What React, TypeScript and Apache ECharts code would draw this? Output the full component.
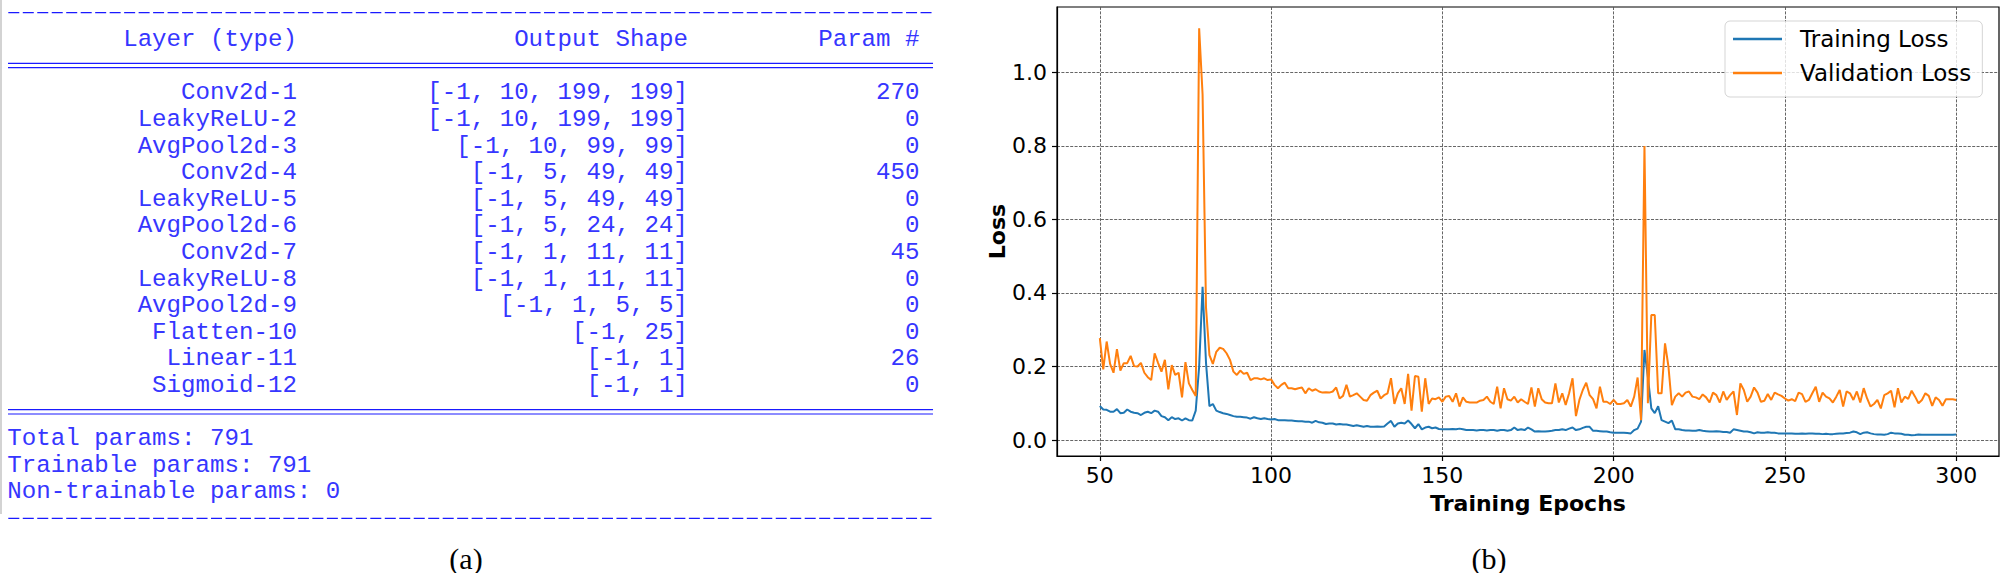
import React, { useEffect, useRef } from "react";
import * as echarts from "echarts";

// ---------- panel (a): model summary table ----------
const TABLE_HEADERS = ["Layer (type)", "Output Shape", "Param #"];
const LAYER_NAMES = [
  "Conv2d-1", "LeakyReLU-2", "AvgPool2d-3", "Conv2d-4", "LeakyReLU-5", "AvgPool2d-6",
  "Conv2d-7", "LeakyReLU-8", "AvgPool2d-9", "Flatten-10", "Linear-11", "Sigmoid-12",
];
const OUTPUT_SHAPES = [
  "[-1, 10, 199, 199]", "[-1, 10, 199, 199]", "[-1, 10, 99, 99]", "[-1, 5, 49, 49]",
  "[-1, 5, 49, 49]", "[-1, 5, 24, 24]", "[-1, 1, 11, 11]", "[-1, 1, 11, 11]",
  "[-1, 1, 5, 5]", "[-1, 25]", "[-1, 1]", "[-1, 1]",
];
const PARAM_COUNTS = ["270", "0", "0", "450", "0", "0", "45", "0", "0", "0", "26", "0"];
const SUMMARY_LINES = ["Total params: 791", "Trainable params: 791", "Non-trainable params: 0"];
const PANEL_LABELS = ["(a)", "(b)"];

// ---------- panel (b): loss curves ----------
const SERIES_NAMES = ["Training Loss", "Validation Loss"];
const FIRST_EPOCH = 50;
const X_TICKS = [50, 100, 150, 200, 250, 300];
const Y_TICKS = [0, 0.2, 0.4, 0.6, 0.8, 1.0];

const TRAINING_LOSS = [
  0.0925, 0.083, 0.082, 0.077, 0.077, 0.084, 0.073, 0.074, 0.083, 0.077,
  0.074, 0.073, 0.068, 0.074, 0.077, 0.073, 0.080, 0.077, 0.065, 0.062,
  0.054, 0.062, 0.057, 0.059, 0.053, 0.059, 0.054, 0.053, 0.080, 0.200,
  0.417, 0.210, 0.092, 0.098, 0.080, 0.076, 0.073, 0.071, 0.068, 0.065,
  0.063, 0.063, 0.062, 0.061, 0.058, 0.062, 0.059, 0.057, 0.059, 0.057,
  0.056, 0.057, 0.054, 0.054, 0.054, 0.053, 0.053, 0.052, 0.051, 0.051,
  0.050, 0.050, 0.047, 0.052, 0.048, 0.047, 0.0435, 0.045, 0.045, 0.042,
  0.0435, 0.042, 0.042, 0.040, 0.038, 0.040, 0.038, 0.036, 0.038, 0.036,
  0.036, 0.037, 0.036, 0.037, 0.045, 0.052, 0.036, 0.045, 0.047, 0.045,
  0.053, 0.0435, 0.032, 0.0435, 0.029, 0.034, 0.036, 0.032, 0.034, 0.030,
  0.029, 0.029, 0.029, 0.030, 0.029, 0.031, 0.029, 0.027, 0.027, 0.027,
  0.026, 0.027, 0.027, 0.026, 0.027, 0.027, 0.025, 0.027, 0.027, 0.025,
  0.027, 0.034, 0.027, 0.029, 0.027, 0.034, 0.029, 0.023, 0.024, 0.023,
  0.023, 0.024, 0.025, 0.027, 0.027, 0.029, 0.027, 0.031, 0.034, 0.027,
  0.029, 0.033, 0.036, 0.036, 0.025, 0.025, 0.024, 0.023, 0.023, 0.021,
  0.020, 0.020, 0.020, 0.020, 0.019, 0.018, 0.027, 0.031, 0.050, 0.245,
  0.172, 0.086, 0.073, 0.092, 0.054, 0.050, 0.046, 0.053, 0.029, 0.029,
  0.027, 0.026, 0.026, 0.025, 0.025, 0.027, 0.025, 0.024, 0.023, 0.023,
  0.024, 0.023, 0.022, 0.022, 0.020, 0.029, 0.027, 0.025, 0.023, 0.023,
  0.021, 0.018, 0.021, 0.020, 0.020, 0.021, 0.020, 0.020, 0.018, 0.018,
  0.018, 0.018, 0.018, 0.017, 0.017, 0.018, 0.017, 0.018, 0.018, 0.017,
  0.017, 0.016, 0.017, 0.016, 0.016, 0.017, 0.018, 0.018, 0.019, 0.020,
  0.023, 0.021, 0.016, 0.020, 0.021, 0.018, 0.016, 0.015, 0.015, 0.0145,
  0.016, 0.020, 0.018, 0.018, 0.017, 0.0145, 0.0145, 0.013, 0.0135, 0.015,
  0.0145, 0.0145, 0.0145, 0.0145, 0.0145, 0.0145, 0.0145, 0.0145, 0.0145, 0.0145,
  0.015,
];

const VALIDATION_LOSS = [
  0.277, 0.192, 0.268, 0.207, 0.183, 0.247, 0.189, 0.209, 0.209, 0.229,
  0.201, 0.200, 0.210, 0.183, 0.171, 0.163, 0.236, 0.210, 0.186, 0.218,
  0.138, 0.204, 0.177, 0.183, 0.116, 0.212, 0.154, 0.136, 0.120, 1.120,
  0.940, 0.360, 0.231, 0.207, 0.240, 0.251, 0.248, 0.236, 0.218, 0.186,
  0.177, 0.189, 0.180, 0.183, 0.163, 0.168, 0.168, 0.165, 0.168, 0.163,
  0.165, 0.150, 0.141, 0.150, 0.156, 0.141, 0.141, 0.138, 0.141, 0.143,
  0.127, 0.141, 0.134, 0.138, 0.132, 0.129, 0.130, 0.129, 0.132, 0.143,
  0.113, 0.120, 0.150, 0.118, 0.122, 0.127, 0.118, 0.109, 0.107, 0.122,
  0.129, 0.134, 0.113, 0.122, 0.127, 0.168, 0.098, 0.127, 0.141, 0.098,
  0.180, 0.080, 0.174, 0.172, 0.077, 0.168, 0.098, 0.113, 0.111, 0.116,
  0.104, 0.118, 0.120, 0.104, 0.127, 0.091, 0.116, 0.104, 0.102, 0.102,
  0.102, 0.107, 0.109, 0.118, 0.104, 0.098, 0.145, 0.086, 0.141, 0.111,
  0.107, 0.118, 0.102, 0.111, 0.104, 0.098, 0.143, 0.091, 0.141, 0.111,
  0.102, 0.100, 0.100, 0.154, 0.102, 0.127, 0.095, 0.127, 0.168, 0.065,
  0.109, 0.136, 0.156, 0.122, 0.111, 0.086, 0.145, 0.104, 0.104, 0.098,
  0.109, 0.098, 0.098, 0.100, 0.109, 0.091, 0.118, 0.170, 0.054, 0.800,
  0.100, 0.340, 0.340, 0.127, 0.127, 0.263, 0.200, 0.095, 0.118, 0.127,
  0.118, 0.129, 0.132, 0.118, 0.116, 0.111, 0.124, 0.116, 0.102, 0.129,
  0.122, 0.102, 0.132, 0.109, 0.122, 0.132, 0.068, 0.154, 0.136, 0.104,
  0.118, 0.143, 0.129, 0.104, 0.107, 0.125, 0.109, 0.129, 0.124, 0.120,
  0.113, 0.107, 0.111, 0.106, 0.129, 0.125, 0.104, 0.109, 0.127, 0.145,
  0.104, 0.129, 0.118, 0.113, 0.102, 0.118, 0.136, 0.091, 0.132, 0.127,
  0.109, 0.132, 0.102, 0.141, 0.113, 0.091, 0.098, 0.109, 0.086, 0.122,
  0.127, 0.134, 0.089, 0.141, 0.102, 0.118, 0.112, 0.134, 0.118, 0.100,
  0.109, 0.127, 0.120, 0.093, 0.116, 0.109, 0.093, 0.111, 0.111, 0.111,
  0.109,
];

// ---------- layout constants ----------
const W = 2001;
const H = 573;
const TBL_COLOR = "#3636ff";
const RULE_COLOR = "#1a1aff";
const MONO = "'Liberation Mono', 'Courier New', monospace";
const SANS = "'DejaVu Sans', sans-serif";
const SERIF = "'Liberation Serif', 'Times New Roman', serif";
const CW = 14.48; // monospace char pitch
const X0 = 7.3;
const MONO_FS = CW / 0.6;
const ROW_Y0 = 92.9;
const ROW_H = 26.6;
const COL_RIGHT = [20, 47, 63].map((c) => X0 + c * CW);
const TABLE_RIGHT = X0 + 64 * CW;

function txt(text: string, x: number, y: number, align: string, extra: any = {}) {
  return {
    type: "text",
    silent: true,
    style: {
      text,
      x,
      y,
      fill: TBL_COLOR,
      fontSize: MONO_FS,
      fontFamily: MONO,
      align,
      verticalAlign: "middle",
      textAlign: align,
      textVerticalAlign: "middle",
      ...extra,
    },
  };
}

function hline(y: number, x1: number, x2: number, style: any) {
  return { type: "line", silent: true, shape: { x1, y1: y, x2, y2: y }, style };
}

function buildGraphics() {
  const g: any[] = [];
  const rowY = (r: number) => ROW_Y0 + ROW_H * r;
  // left grey border
  g.push({ type: "line", silent: true, shape: { x1: 1, y1: 0, x2: 1, y2: 514 }, style: { stroke: "#c4c4c4", lineWidth: 1.5 } });
  // dashed rules
  const dashStyle = { stroke: RULE_COLOR, lineWidth: 1.3, lineDash: [11, CW - 11] };
  g.push(hline(12.7, 8.3, TABLE_RIGHT, dashStyle));
  g.push(hline(518.3, 8.3, TABLE_RIGHT, dashStyle));
  // double (=) rules
  const eqStyle = { stroke: RULE_COLOR, lineWidth: 1.2 };
  g.push(hline(63.3, 8, TABLE_RIGHT - 1, eqStyle));
  g.push(hline(67.7, 8, TABLE_RIGHT - 1, eqStyle));
  g.push(hline(409.6, 8, TABLE_RIGHT - 1, eqStyle));
  g.push(hline(414.0, 8, TABLE_RIGHT - 1, eqStyle));
  // header
  TABLE_HEADERS.forEach((h, i) => g.push(txt(h, COL_RIGHT[i], rowY(-2), "right")));
  // rows
  LAYER_NAMES.forEach((name, r) => {
    g.push(txt(name, COL_RIGHT[0], rowY(r), "right"));
    g.push(txt(OUTPUT_SHAPES[r], COL_RIGHT[1], rowY(r), "right"));
    g.push(txt(PARAM_COUNTS[r], COL_RIGHT[2], rowY(r), "right"));
  });
  // summary
  SUMMARY_LINES.forEach((s, i) => g.push(txt(s, X0, rowY(13 + i), "left")));
  // panel labels
  const lab = { fill: "#000", fontSize: 30, fontFamily: SERIF };
  g.push(txt(PANEL_LABELS[0], 466, 558, "center", lab));
  g.push(txt(PANEL_LABELS[1], 1489, 558, "center", lab));
  return g;
}

export default function App() {
  const ref = useRef<HTMLDivElement>(null);
  useEffect(() => {
    if (!ref.current) return;
    const chart = echarts.init(ref.current, null, { renderer: "svg", width: W, height: H });
    const toPairs = (arr: number[]) => arr.map((v, i) => [FIRST_EPOCH + i, v]);
    const axisText = { fontFamily: SANS, fontSize: 22, color: "#000" };
    const splitStyle = { color: "#555", width: 0.9, type: [3, 1.4] };
    chart.setOption({
      animation: false,
      backgroundColor: "#fff",
      textStyle: { fontFamily: SANS },
      grid: {
        left: 1057,
        right: 2,
        top: 7,
        bottom: 117,
        show: true,
        borderColor: "#000",
        borderWidth: 1.2,
        backgroundColor: "transparent",
        outerBoundsMode: "none",
      },
      legend: {
        orient: "vertical",
        left: 1725,
        top: 21,
        data: SERIES_NAMES,
        icon: "rect",
        itemWidth: 49,
        itemHeight: 2.5,
        itemGap: 0,
        selectedMode: false,
        padding: [1, 11, 7, 8],
        backgroundColor: "rgba(255,255,255,0.8)",
        borderColor: "rgba(0,0,0,0.17)",
        borderWidth: 1,
        borderRadius: 5,
        textStyle: { fontFamily: SANS, fontSize: 23, color: "#000", lineHeight: 34, padding: [0, 0, 0, 13] },
      },
      xAxis: {
        type: "value",
        min: 37.5,
        max: 312.5,
        name: "Training Epochs",
        nameLocation: "middle",
        nameGap: 36,
        nameTextStyle: { fontFamily: SANS, fontSize: 22, fontWeight: "bold", color: "#000" },
        axisLine: { show: true, onZero: false, lineStyle: { color: "#000", width: 1.2 } },
        axisTick: { show: true, length: 5, lineStyle: { color: "#000", width: 1.2 }, customValues: X_TICKS },
        axisLabel: { ...axisText, margin: 8, customValues: X_TICKS, formatter: (v: number) => String(v) },
        splitLine: { show: true, lineStyle: splitStyle },
      },
      yAxis: {
        type: "value",
        min: -0.0435,
        max: 1.178,
        name: "Loss",
        nameLocation: "middle",
        nameGap: 48,
        nameTextStyle: { fontFamily: SANS, fontSize: 22, fontWeight: "bold", color: "#000" },
        axisLine: { show: true, onZero: false, lineStyle: { color: "#000", width: 1.2 } },
        axisTick: { show: true, length: 5, lineStyle: { color: "#000", width: 1.2 }, customValues: Y_TICKS },
        axisLabel: { ...axisText, margin: 10, customValues: Y_TICKS, formatter: (v: number) => v.toFixed(1) },
        splitLine: { show: true, lineStyle: splitStyle },
      },
      series: [
        {
          name: SERIES_NAMES[0],
          type: "line",
          data: toPairs(TRAINING_LOSS),
          showSymbol: false,
          symbol: "none",
          color: "#1f77b4",
          lineStyle: { color: "#1f77b4", width: 2 },
          emphasis: { disabled: true },
        },
        {
          name: SERIES_NAMES[1],
          type: "line",
          data: toPairs(VALIDATION_LOSS),
          showSymbol: false,
          symbol: "none",
          color: "#ff7f0e",
          lineStyle: { color: "#ff7f0e", width: 2 },
          emphasis: { disabled: true },
        },
      ],
      graphic: { elements: buildGraphics() },
    });
    return () => chart.dispose();
  }, []);
  return <div ref={ref} style={{ position: "absolute", left: 0, top: 0, width: W, height: H }} />;
}
